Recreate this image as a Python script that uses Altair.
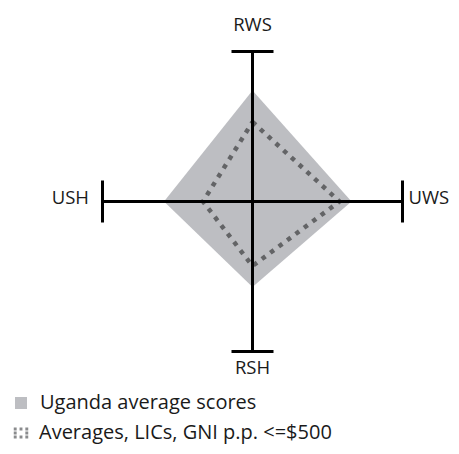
import altair as alt
import pandas as pd

axes_names = ["RWS", "UWS", "RSH", "USH"]
uganda = [0.74, 0.66, 0.57, 0.59]
lics = [0.53, 0.58, 0.43, 0.33]
series_names = ["Uganda average scores", "Averages, LICs, GNI p.p. <=$500"]

FONT = "Open Sans"
FS = 20
AFS = 18.5
W, H = 443, 438
CX, CY, UNIT = 244.5, 193.5, 150.0
XD = [-CX / UNIT, (W - CX) / UNIT]
YD = [-(H - CY) / UNIT, CY / UNIT]

dirs = {"RWS": (0, 1), "UWS": (1, 0), "RSH": (0, -1), "USH": (-1, 0)}

u = dict(zip(axes_names, uganda))
area_df = pd.DataFrame({
    "x": [-u["USH"], 0, u["UWS"]],
    "y": [0, u["RWS"], 0],
    "y2": [0, -u["RSH"], 0],
    "series": [series_names[0]] * 3,
})

lv = dict(zip(axes_names, lics))
pts = []
for i, name in enumerate(axes_names + [axes_names[0]]):
    dx, dy = dirs[name]
    pts.append({"x": dx * lv[name], "y": dy * lv[name], "order": i, "series": series_names[1]})
line_df = pd.DataFrame(pts)

cap = 0.14
seg_df = pd.DataFrame([
    {"x": 0, "y": -1, "x2": 0, "y2": 1},
    {"x": -1, "y": 0, "x2": 1, "y2": 0},
    {"x": -cap, "y": 1, "x2": cap, "y2": 1},
    {"x": -cap, "y": -1, "x2": cap, "y2": -1},
    {"x": -1, "y": -cap, "x2": -1, "y2": cap},
    {"x": 1, "y": -cap, "x2": 1, "y2": cap},
])

lab_c = pd.DataFrame([
    {"label": "RWS", "x": 0, "y": 1.18},
    {"label": "RSH", "x": 0, "y": -1.11},
])
lab_l = pd.DataFrame([{"label": "UWS", "x": 1.04, "y": 0.025}])
lab_r = pd.DataFrame([{"label": "USH", "x": -1.09, "y": 0.025}])

xs = alt.Scale(domain=XD, nice=False, zero=False)
ys = alt.Scale(domain=YD, nice=False, zero=False)
X = alt.X("x:Q", scale=xs, axis=None)
Y = alt.Y("y:Q", scale=ys, axis=None)

area = alt.Chart(area_df).mark_area(color="#bdbec2", opacity=1).encode(
    x=X, y=Y, y2="y2:Q",
    fill=alt.Fill("series:N", scale=alt.Scale(domain=[series_names[0]], range=["#bdbec2"]),
                  legend=alt.Legend(title=None, orient="none", legendX=3, legendY=385,
                                    symbolType="square", symbolSize=144, labelFont=FONT,
                                    labelFontSize=FS, labelColor="#1a1a1a", labelOffset=9,
                                    labelLimit=0, padding=0, symbolStrokeWidth=0)),
)

dotpath = " ".join(
    f"M{a - 0.2},{b - 0.2}h0.4v0.4h-0.4z"
    for a in (-0.8, 0, 0.8) for b in (-0.55, 0, 0.55) if not (a == 0 and b == 0)
)

line = alt.Chart(line_df).mark_line(color="#636466", strokeWidth=4.5, strokeCap="butt").encode(
    x=X, y=Y, order="order:Q",
    strokeDash=alt.StrokeDash("series:N", scale=alt.Scale(domain=[series_names[1]], range=[[4.5, 6]]),
                              legend=alt.Legend(title=None, orient="none", legendX=3, legendY=415,
                                                symbolType=dotpath, symbolSize=210, labelFont=FONT,
                                                labelFontSize=FS, labelColor="#1a1a1a", labelOffset=8,
                                                labelLimit=0, padding=0, symbolFillColor="#8a8b8d",
                                                symbolStrokeWidth=0)),
)

rules = alt.Chart(seg_df).mark_rule(color="black", strokeWidth=3).encode(
    x=X, y=Y, x2="x2:Q", y2="y2:Q",
)

def txt(df, align):
    return alt.Chart(df).mark_text(font=FONT, fontSize=AFS, color="#1a1a1a",
                                   baseline="middle", align=align).encode(x=X, y=Y, text="label:N")

chart = alt.layer(area, line, rules, txt(lab_c, "center"), txt(lab_l, "left"), txt(lab_r, "right")).resolve_legend(
    fill="independent", strokeDash="independent"
).properties(
    width=W, height=H, padding=0,
    autosize=alt.AutoSizeParams(type="none"),
).configure_view(stroke=None)

chart.save("out.html", embed_options={"renderer": "svg", "actions": False})
